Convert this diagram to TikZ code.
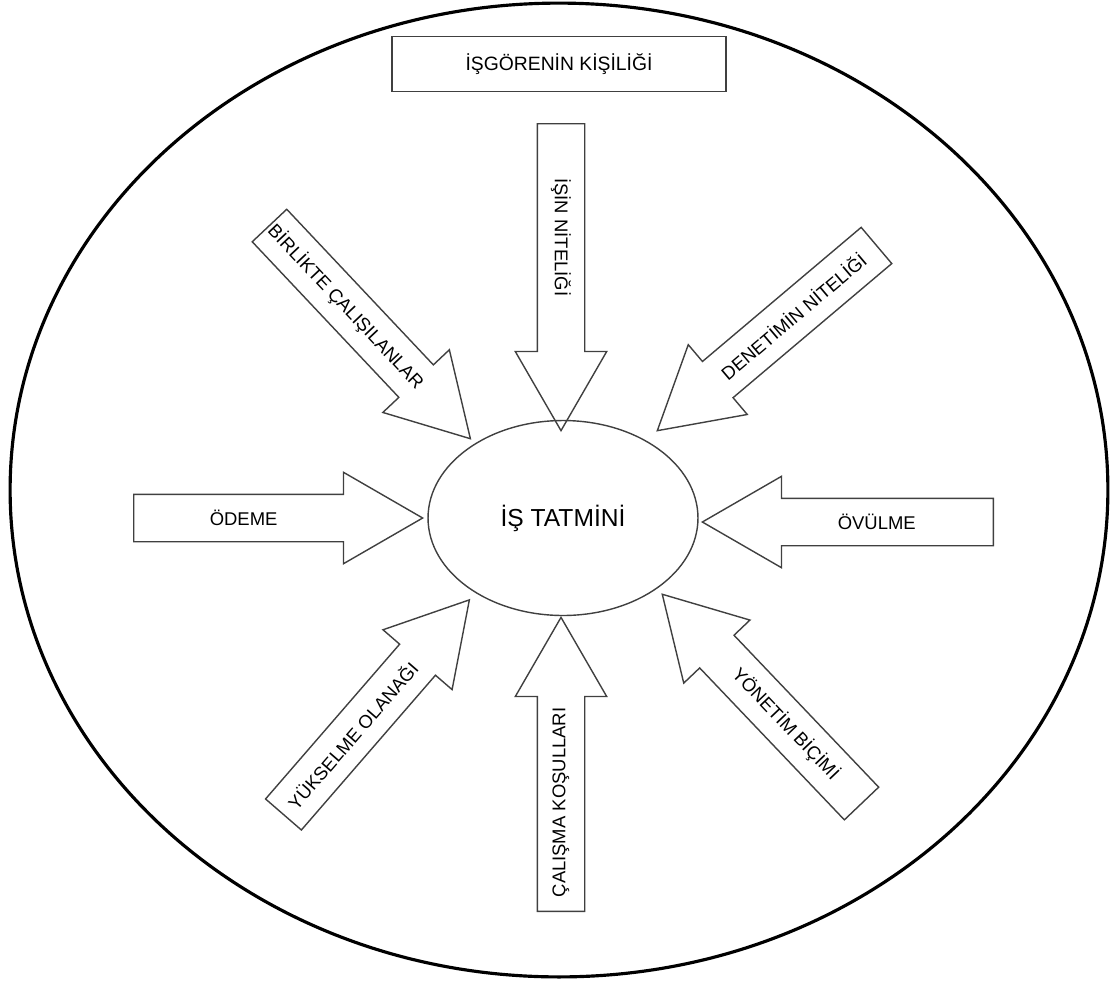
\documentclass[tikz,border=0pt]{standalone}
\usepackage{fontspec}
\setmainfont{Liberation Sans}
\usetikzlibrary{shapes.geometric,shapes.arrows,calc}

\begin{document}
\begin{tikzpicture}[x=0.02cm,y=-0.02cm,
        okbox/.style={single arrow, draw=black!75, line width=0.8pt, inner xsep=0pt, inner ysep=0.46cm,
            minimum width=1.8cm, single arrow head extend=0.44cm, single arrow tip angle=60},
        okyazi/.style={font=\fontsize{10.5}{12}\selectfont, inner sep=0pt}]
            \useasboundingbox (0,0) rectangle (1112,985);

            \node[draw, ellipse, line width=1.8pt, minimum width=21.96cm, minimum height=19.48cm] (dis) at (559,490) {};
            \node[draw=black!75, line width=0.8pt, minimum width=6.68cm, minimum height=1.1cm, font=\fontsize{11}{13}\selectfont] (kisilik) at (559,64) {İŞGÖRENİN KİŞİLİĞİ};
            \node[draw=black!75, ellipse, line width=0.8pt, minimum width=5.4cm, minimum height=3.9cm, font=\fontsize{14}{16}\selectfont] (tatmin) at (563,518) {İŞ TATMİNİ};

            \node[okbox, minimum height=6.14cm, rotate=-90, anchor=tail] (isin) at (561,123) {};
            \node[okbox, minimum height=5.88cm, rotate=90, anchor=tail] (calisma) at (561,912) {};
            \node[okbox, minimum height=5.78cm, rotate=0, anchor=tail] (odeme) at (133,518) {};
            \node[okbox, minimum height=5.82cm, rotate=180, anchor=tail] (ovulme) at (994,522) {};
            \node[okbox, minimum height=5.86cm, rotate=-46.7, anchor=tail] (birlikte) at (269,225) {};
            \node[okbox, minimum height=5.74cm, rotate=-139.8, anchor=tail] (denetim) at (877,245) {};
            \node[okbox, minimum height=5.68cm, rotate=49.1, anchor=tail] (yukselme) at (283,815) {};
            \node[okbox, minimum height=5.78cm, rotate=133.6, anchor=tail] (yonetim) at (862,804) {};

            \node[okyazi, rotate=-90] (isinyazi) at ($(isin.tail)!0.37!(isin.tip)$) {İŞİN NİTELİĞİ};
            \node[okyazi, rotate=90] (calismayazi) at ($(calisma.tail)!0.37!(calisma.tip)$) {ÇALIŞMA KOŞULLARI};
            \node[okyazi] (odemeyazi) at ($(odeme.tail)!0.38!(odeme.tip)$) {ÖDEME};
            \node[okyazi] (ovulmeyazi) at ($(ovulme.tail)!0.4!(ovulme.tip)$) {ÖVÜLME};
            \node[okyazi, rotate=-46.7] (birlikteyazi) at ($(birlikte.tail)!0.38!(birlikte.tip)$) {BİRLİKTE ÇALIŞILANLAR};
            \node[okyazi, rotate=40.2] (denetimyazi) at ($(denetim.tail)!0.38!(denetim.tip)$) {DENETİMİN NİTELİĞİ};
            \node[okyazi, rotate=49.1] (yukselmeyazi) at ($(yukselme.tail)!0.37!(yukselme.tip)$) {YÜKSELME OLANAĞI};
            \node[okyazi, rotate=-46.4] (yonetimyazi) at ($(yonetim.tail)!0.38!(yonetim.tip)$) {YÖNETİM BİÇİMİ};
        \end{tikzpicture}
\end{document}
